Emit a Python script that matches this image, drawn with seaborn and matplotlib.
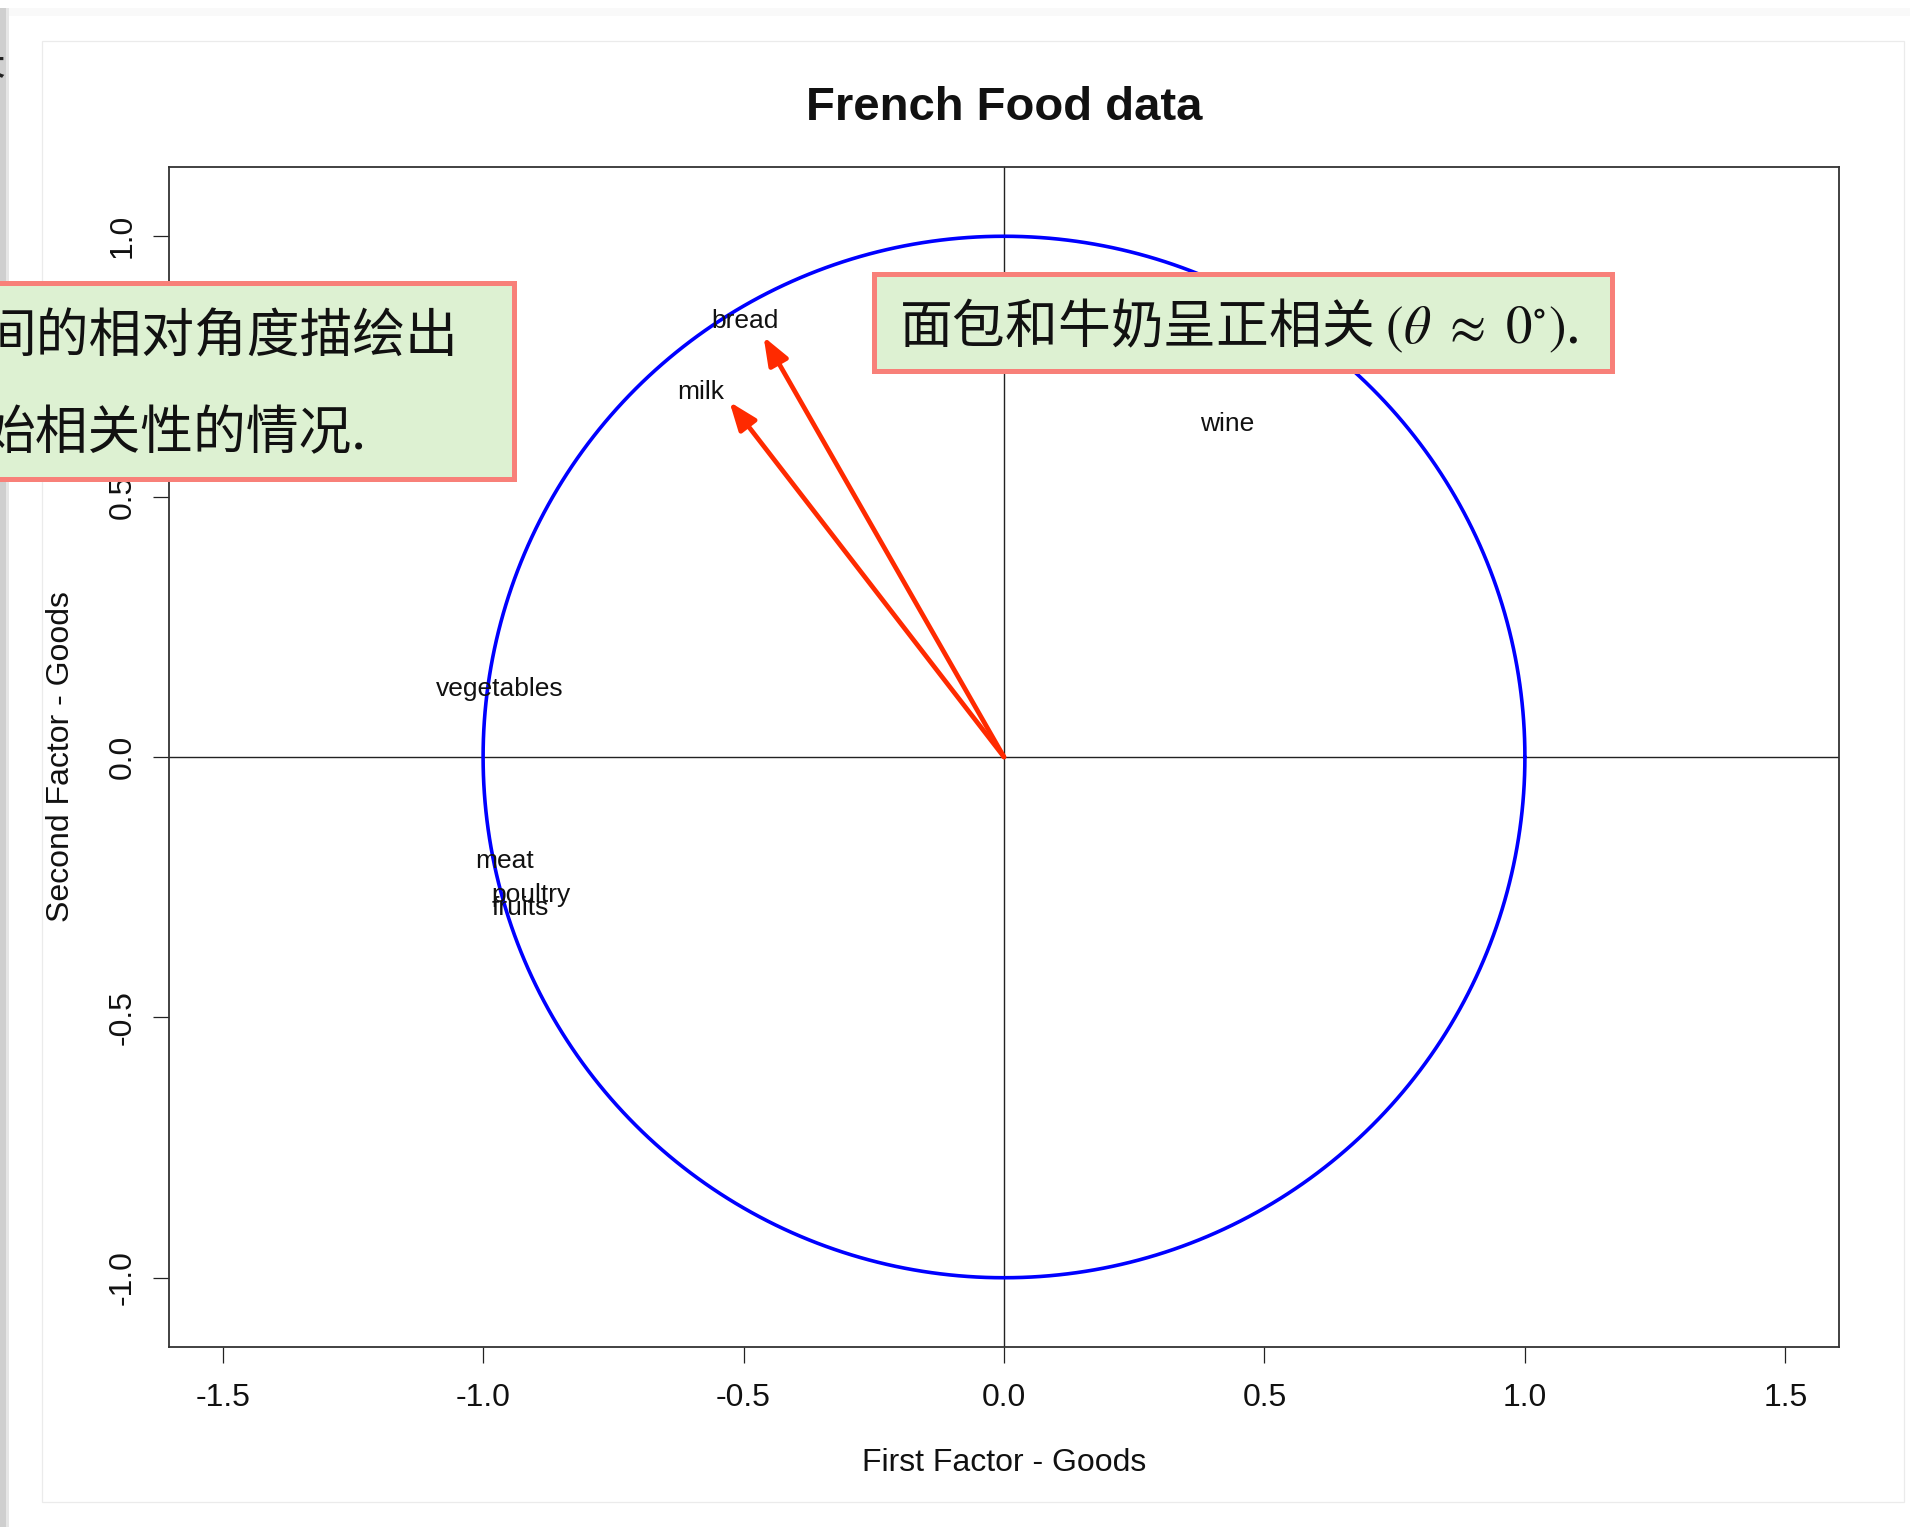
import numpy as np
import pandas as pd
import matplotlib
matplotlib.use("Agg")
import matplotlib.pyplot as plt
from matplotlib.patches import Rectangle, FancyArrowPatch
import seaborn as sns

# ---- data -------------------------------------------------------------
variables = ["bread", "vegetables", "fruits", "meat", "poultry", "milk", "wine"]
factor1 = [-0.498, -0.968, -0.928, -0.959, -0.909, -0.583, 0.429]
factor2 = [0.842, 0.135, -0.285, -0.195, -0.260, 0.705, 0.645]

arrow_names = ["bread", "milk"]
arrow_x = [-0.4615, -0.527]
arrow_y = [0.807, 0.682]

x_ticks = [-1.5, -1.0, -0.5, 0.0, 0.5, 1.0, 1.5]
y_ticks = [-1.0, -0.5, 0.0, 0.5, 1.0]

title = "French Food data"
x_label = "First Factor - Goods"
y_label = "Second Factor - Goods"
note_left = ["间的相对角度描绘出", "始相关性的情况."]
note_right = r"面包和牛奶呈正相关 $(\theta\ \approx\ 0^{\circ})$."

# ---- style ------------------------------------------------------------
sns.set_style("white")
plt.rcParams["font.family"] = ["Liberation Sans", "Noto Sans CJK SC", "DejaVu Sans"]
plt.rcParams["axes.unicode_minus"] = False
plt.rcParams["mathtext.fontset"] = "stix"

W, H = 1910, 1527
fig = plt.figure(figsize=(W / 100, H / 100), dpi=100)
fig.patch.set_facecolor("white")


def fx(px):
    return px / W


def fy(py):
    return 1 - py / H


# page frame around the plot
fig.add_artist(Rectangle((0, 0), fx(6), fy(8), transform=fig.transFigure,
                         facecolor="#CFCFCF", edgecolor="none", zorder=1))
fig.add_artist(Rectangle((fx(6), 0), fx(3), fy(8), transform=fig.transFigure,
                         facecolor="#E6E6E6", edgecolor="none", zorder=1))
fig.add_artist(Rectangle((fx(9), fy(16)), 1, 8 / H, transform=fig.transFigure,
                         facecolor="#F9F9F9", edgecolor="none", zorder=1))
fig.add_artist(Rectangle((fx(42), fy(1502)), fx(1904) - fx(42), fy(41) - fy(1502),
                         transform=fig.transFigure, facecolor="none",
                         edgecolor="#EBEBEB", lw=0.9, zorder=1))
fig.text(fx(5), fy(64), "长", ha="right", va="center", fontsize=30,
         family=["Noto Sans CJK SC", "DejaVu Sans"], color="#222222", zorder=2)

# ---- axes -------------------------------------------------------------
ax = fig.add_axes([fx(169), fy(1347), (1839 - 169) / W, (1347 - 167) / H])
ax.set_facecolor("white")
ax.set_xlim(-1.603, 1.603)
ax.set_ylim(-1.133, 1.133)

# unit correlation circle
t = np.linspace(0, 2 * np.pi, 721)
circle = pd.DataFrame({"x": np.cos(t), "y": np.sin(t)})
sns.lineplot(data=circle, x="x", y="y", sort=False, estimator=None,
             color="#0000FF", lw=2.6, ax=ax, zorder=3)

ax.axhline(0, color="#222222", lw=1.0, zorder=2)
ax.axvline(0, color="#222222", lw=1.0, zorder=2)

for ax_x, ax_y in zip(arrow_x, arrow_y):
    arr = FancyArrowPatch((0, 0), (ax_x, ax_y),
                          arrowstyle="-|>,head_length=17,head_width=6.5",
                          mutation_scale=1, color="#FF2A00", lw=3.4,
                          shrinkA=0, shrinkB=0, zorder=4)
    ax.add_patch(arr)

for name, vx, vy in zip(variables, factor1, factor2):
    ax.text(vx, vy, name, ha="center", va="center_baseline", fontsize=19,
            color="#111111", zorder=5)

ax.set_xticks(x_ticks)
ax.set_xticklabels([f"{v:.1f}" for v in x_ticks])
ax.set_yticks(y_ticks)
ax.set_yticklabels([f"{v:.1f}" for v in y_ticks], rotation=90, va="center")
ax.tick_params(axis="both", which="major", direction="out", length=11.5,
               width=0.9, color="#222222", labelsize=23, labelcolor="#111111",
               bottom=True, left=True, top=False, right=False)
ax.tick_params(axis="x", pad=14.5)
ax.tick_params(axis="y", pad=11)

for sp in ax.spines.values():
    sp.set_visible(True)
    sp.set_color("#333333")
    sp.set_linewidth(1.3)

ax.set_xlabel(x_label, fontsize=23, color="#111111")
ax.set_ylabel(y_label, fontsize=23, color="#111111")
ax.xaxis.set_label_coords(0.5, (1347 - 1463) / 1180)
ax.xaxis.label.set_va("center")
ax.yaxis.set_label_coords((61 - 169) / 1670, 0.5)
ax.yaxis.label.set_va("center")

fig.text(fx(1004), fy(108), title, ha="center", va="center", fontsize=34,
         fontweight="bold", color="#111111")

# ---- callout boxes ----------------------------------------------------
box_face = "#DDF1D2"
box_edge = "#F88079"
fig.add_artist(Rectangle((fx(-20), fy(479)), fx(514 + 20), fy(283) - fy(479),
                         transform=fig.transFigure, facecolor=box_face,
                         edgecolor=box_edge, lw=3.6, zorder=6))
fig.add_artist(Rectangle((fx(874), fy(371)), fx(1612 - 874), fy(274) - fy(371),
                         transform=fig.transFigure, facecolor=box_face,
                         edgecolor=box_edge, lw=3.6, zorder=6))

cjk = ["Noto Sans CJK SC", "DejaVu Sans"]
fig.text(fx(-17), fy(337), note_left[0], ha="left", va="center", fontsize=38,
         family=cjk, color="#111111", zorder=7)
fig.text(fx(-17), fy(434), note_left[1], ha="left", va="center", fontsize=38,
         family=cjk, color="#111111", zorder=7)
fig.text(fx(899), fy(326), note_right, ha="left", va="center", fontsize=38,
         family=cjk, color="#111111", zorder=7)

fig.savefig("out.png", dpi=100)
